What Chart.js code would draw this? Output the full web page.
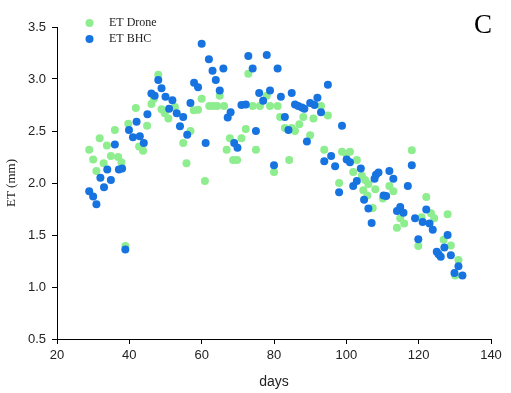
<!DOCTYPE html>
<html>
<head>
<meta charset="utf-8">
<script src="https://cdn.jsdelivr.net/npm/chart.js@4"></script>
<style>
  html, body { margin: 0; padding: 0; background: #fff; }
  #wrap { width: 511px; height: 393px; }
</style>
</head>
<body>
<div id="wrap"><canvas id="etChart"></canvas></div>
<script>
// ET Drone (green)
const droneDays = [28.9, 30.0, 30.9, 31.8, 32.9, 33.8, 34.9, 36.0, 36.9, 37.8, 38.9, 39.7, 41.8, 42.7, 43.8, 44.9,
  46.1, 46.8, 48.0, 48.9, 49.8, 50.8, 52.6, 54.9, 55.8, 56.9, 57.8, 59.0, 60.0, 60.9, 62.1, 63.2, 64.3, 65.0,
  66.2, 66.9, 67.8, 68.7, 69.8, 71.0, 72.2, 72.9, 74.1, 75.0, 76.1, 78.0, 78.9, 80.0, 81.0, 81.7, 83.0, 84.2,
  84.9, 85.8, 87.0, 88.1, 90.0, 90.9, 93.0, 93.9, 94.9, 98.0, 98.8, 100.0, 101.0, 101.9, 102.9, 104.3, 104.7,
  105.2, 105.8, 106.1, 107.3, 108.0, 110.1, 111.9, 113.0, 114.0, 114.9, 116.0, 118.1, 119.9, 120.8, 122.1,
  123.4, 124.3, 126.9, 128.0, 128.9, 130.1, 131.0];
const droneET = [2.32, 2.225, 2.115, 2.43, 2.19, 2.36, 2.26, 2.51, 2.25, 2.20, 1.395, 2.57, 2.72, 2.35, 2.31, 2.55,
  2.76, 2.81, 3.04, 2.71, 2.67, 2.62, 2.73, 2.385, 2.19, 2.50, 2.70, 2.705, 2.81, 2.02, 2.74, 2.74, 2.74, 2.84,
  2.74, 2.32, 2.43, 2.22, 2.22, 2.43, 2.52, 3.05, 2.74, 2.32, 2.74, 2.84, 2.74, 2.105, 2.74, 2.635, 2.53, 2.22,
  2.53, 2.50, 2.565, 2.635, 2.46, 2.62, 2.74, 2.32, 2.65, 2.0, 2.30, 2.28, 2.30, 2.105, 2.22, 2.07, 1.93,
  2.03, 1.88, 1.99, 1.76, 1.94, 1.85, 1.97, 1.92, 1.57, 1.66, 1.61, 2.315, 1.395, 1.67, 1.865,
  1.71, 1.66, 1.455, 1.70, 1.40, 1.11, 1.26];

// ET BHC (blue)
const bhcDays = [28.9, 30.0, 30.9, 32.0, 33.0, 33.9, 34.9, 36.0, 37.1, 38.0, 38.9, 39.9, 41.0, 42.0, 42.9, 44.0,
  45.0, 46.1, 47.0, 48.0, 48.9, 50.0, 51.0, 51.9, 53.1, 54.0, 54.9, 56.0, 56.9, 57.9, 59.0, 60.0, 61.1, 62.0,
  63.0, 63.9, 65.0, 66.0, 67.2, 68.0, 69.0, 69.9, 71.0, 72.2, 72.9, 74.1, 75.0, 75.9, 77.0, 78.0, 78.9, 80.0,
  81.0, 81.9, 83.0, 84.0, 84.9, 85.8, 86.7, 87.7, 88.4, 89.1, 90.0, 91.2, 92.0, 93.0, 93.9, 94.9, 95.8, 96.9,
  98.0, 98.8, 100.1, 101.0, 101.9, 102.9, 104.0, 104.9, 106.1, 107.0, 107.8, 108.2, 108.9, 110.3, 111.0,
  111.9, 113.0, 114.0, 114.9, 115.8, 117.0, 118.1, 119.0, 119.9, 121.1, 122.1, 123.0, 123.9, 125.0, 125.5,
  126.1, 127.1, 128.0, 128.9, 129.9, 131.0, 132.1];
const bhcET = [1.92, 1.87, 1.795, 2.05, 1.96, 2.13, 2.03, 2.37, 2.13, 2.14, 1.36, 2.51, 2.44, 2.59, 2.45, 2.385,
  2.66, 2.86, 2.84, 2.99, 2.91, 2.83, 2.715, 2.795, 2.67, 2.545, 2.635, 2.465, 2.77, 2.965, 2.92, 3.34, 2.385, 3.19,
  3.08, 2.99, 2.89, 3.10, 2.63, 2.68, 2.385, 2.34, 2.75, 2.755, 3.22, 3.10, 2.50, 2.865, 2.79, 3.23, 2.89, 2.17,
  3.10, 2.83, 2.635, 2.51, 2.865, 2.755, 2.74, 2.725, 2.715, 2.40, 2.77, 2.75, 2.82, 2.68, 2.21, 2.945, 2.26, 2.16,
  1.91, 2.55, 2.225, 2.20, 1.97, 2.02, 2.14, 1.84, 1.755, 1.615, 2.04, 2.08, 2.10, 1.88, 1.875,
  2.115, 2.04, 1.73, 1.77, 1.715, 1.97, 2.17, 1.66, 1.46, 1.625, 1.745, 1.61, 1.55, 1.34, 1.315,
  1.29, 1.38, 1.50, 1.305, 1.135, 1.20, 1.11];

const xTicks = [20, 40, 60, 80, 100, 120, 140];
const yTicks = [0.5, 1.0, 1.5, 2.0, 2.5, 3.0, 3.5];

const green = '#8eed8e';
const blue = '#1673e0';
const serif = '"Liberation Serif", "Times New Roman", serif';
const sans = '"Liberation Sans", Arial, sans-serif';

function toPoints(xs, ys) {
  return xs.map((x, i) => ({ x: x, y: ys[i] }));
}

// legend inside the plot + panel letter
const overlay = {
  id: 'overlay',
  afterDraw(chart) {
    const ctx = chart.ctx;
    ctx.save();
    const items = chart.data.datasets;
    items.forEach((ds, i) => {
      const y = 23 + i * 16;
      ctx.beginPath();
      ctx.fillStyle = ds.backgroundColor;
      ctx.arc(89.5, y, 4, 0, Math.PI * 2);
      ctx.fill();
      ctx.fillStyle = '#222';
      ctx.font = '12px ' + serif;
      ctx.textBaseline = 'middle';
      ctx.textAlign = 'left';
      ctx.fillText(ds.label, 109, y);
    });
    ctx.fillStyle = '#000';
    ctx.font = '27px ' + serif;
    ctx.textBaseline = 'alphabetic';
    ctx.fillText('C', 474, 33);
    ctx.restore();
  }
};

new Chart(document.getElementById('etChart'), {
  type: 'scatter',
  data: {
    datasets: [{
      label: 'ET Drone',
      data: toPoints(droneDays, droneET),
      backgroundColor: green,
      borderWidth: 0,
      pointRadius: 4,
      order: 1
    }, {
      label: 'ET BHC',
      data: toPoints(bhcDays, bhcET),
      backgroundColor: blue,
      borderWidth: 0,
      pointRadius: 4,
      order: 0
    }]
  },
  options: {
    responsive: true,
    maintainAspectRatio: false,
    animation: false,
    layout: { padding: { left: 0, right: 20, top: 27, bottom: 0 } },
    plugins: {
      legend: { display: false },
      tooltip: { enabled: false }
    },
    scales: {
      x: {
        type: 'linear',
        min: 20,
        max: 140,
        afterBuildTicks: scale => { scale.ticks = xTicks.map(v => ({ value: v })); },
        afterFit: scale => { scale.height = 54; },
        ticks: {
          color: '#222',
          font: { family: sans, size: 13 },
          padding: 4,
          maxRotation: 0
        },
        grid: { display: true, drawOnChartArea: false, drawTicks: true, tickLength: 5, color: '#000' },
        border: { display: true, color: '#000', width: 1 },
        title: {
          display: true,
          text: 'days',
          color: '#222',
          font: { family: sans, size: 14 },
          padding: { top: 0, bottom: 2 }
        }
      },
      y: {
        type: 'linear',
        min: 0.5,
        max: 3.5,
        afterBuildTicks: scale => { scale.ticks = yTicks.map(v => ({ value: v })); },
        afterFit: scale => { scale.width = 57; },
        ticks: {
          color: '#222',
          font: { family: sans, size: 13 },
          padding: 6,
          callback: v => v.toFixed(1)
        },
        grid: { display: true, drawOnChartArea: false, drawTicks: true, tickLength: 5, color: '#000' },
        border: { display: true, color: '#000', width: 1 },
        title: {
          display: true,
          text: 'ET (mm)',
          color: '#222',
          font: { family: serif, size: 13 },
          padding: { top: 4, bottom: 4 }
        }
      }
    }
  },
  plugins: [overlay]
});
</script>
</body>
</html>
